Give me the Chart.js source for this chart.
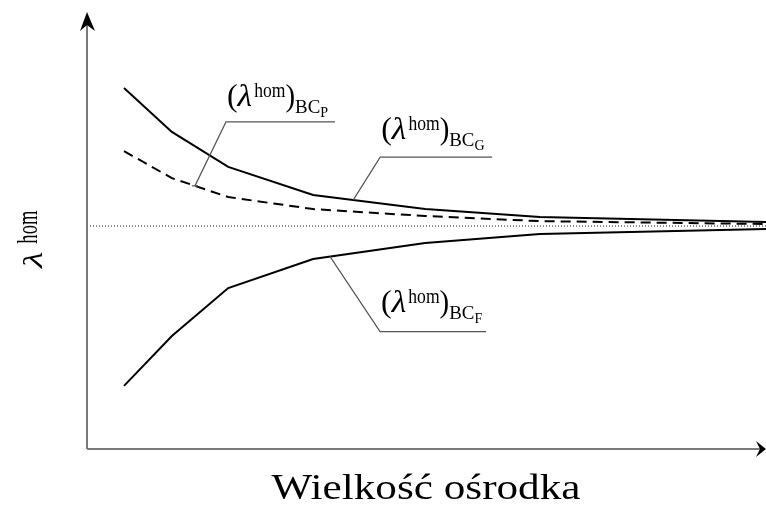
<!DOCTYPE html>
<html>
<head>
<meta charset="utf-8">
<script src="https://cdn.jsdelivr.net/npm/chart.js@4/dist/chart.umd.min.js"></script>
<style>
  html, body { margin: 0; padding: 0; background: #fff; }
  #wrap { width: 766px; height: 518px; position: relative; }
</style>
</head>
<body>
<div id="wrap"><canvas id="chart"></canvas></div>
<script>
// sample size (relative units along the x axis)
const sizes = [5.45, 12.5, 20.8, 33.3, 49.8, 66.7, 100];
// homogenised lambda for three boundary conditions (1 = limit value)
const bcG = [1.619, 1.422, 1.265, 1.139, 1.076, 1.040, 1.018];
const bcP = [1.336, 1.215, 1.130, 1.076, 1.045, 1.022, 1.009];
const bcF = [0.283, 0.507, 0.722, 0.852, 0.924, 0.964, 0.987];
const limitX = [0, 100];
const limitY = [1, 1];

const toPts = (xs, ys) => xs.map((x, i) => ({ x: x, y: ys[i] }));
function interp(xs, ys, x) {
    for (let i = 0; i < xs.length - 1; i++) {
        if (x >= xs[i] && x <= xs[i + 1]) {
            const t = (x - xs[i]) / (xs[i + 1] - xs[i]);
            return ys[i] + t * (ys[i + 1] - ys[i]);
        }
    }
    return ys[ys.length - 1];
}

// labels: anchor x on the curve, elbow offset, shelf length, text baseline above shelf
const notes = [
    { xs: sizes, ys: bcP, at: 15.9, dx: 31, dy: -64, shelf: 109, up: 16, sub: 'P', tick: true },
    { xs: sizes, ys: bcG, at: 39.2, dx: 27, dy: -43, shelf: 112, up: 18, sub: 'G' },
    { xs: sizes, ys: bcF, at: 35.8, dx: 50, dy: 75, shelf: 106, up: 20, sub: 'F' }
];

const SERIF = '"Liberation Serif", "DejaVu Serif", serif';

// draw text squeezed/stretched along its run, returns advance
function txt(ctx, s, x, y, font, sx) {
    ctx.font = font;
    ctx.save();
    ctx.translate(x, y);
    ctx.scale(sx, 1);
    ctx.fillText(s, 0, 0);
    ctx.restore();
    return ctx.measureText(s).width * sx;
}

function drawLabel(ctx, x, y, sub) {
    // (λ^hom)_BC_sub , x = left, y = baseline
    ctx.save();
    ctx.fillStyle = '#000';
    ctx.textBaseline = 'alphabetic';
    ctx.textAlign = 'left';
    let cx = x;
    cx += txt(ctx, '(', cx, y, '32px ' + SERIF, 1);
    cx += txt(ctx, 'λ', cx, y, 'italic 32px ' + SERIF, 1.05) + 2;
    cx += txt(ctx, 'hom', cx, y - 9, '22px ' + SERIF, 0.8);
    cx += txt(ctx, ')', cx, y, '32px ' + SERIF, 0.9);
    cx += txt(ctx, 'BC', cx, y + 7, '18px ' + SERIF, 1.05);
    txt(ctx, sub, cx, y + 11, '14px ' + SERIF, 1);
    ctx.restore();
}

const decor = {
    id: 'decor',
    afterDatasetsDraw(chart) {
        const ctx = chart.ctx;
        const sx = chart.scales.x, sy = chart.scales.y;
        const a = chart.chartArea;
        ctx.save();
        // axes
        ctx.strokeStyle = '#7a7a7a';
        ctx.lineWidth = 2;
        ctx.beginPath();
        ctx.moveTo(a.left, a.bottom);
        ctx.lineTo(a.left, a.top + 4);
        ctx.moveTo(a.left, a.bottom);
        ctx.lineTo(a.right - 3, a.bottom);
        ctx.stroke();
        ctx.fillStyle = '#000';
        ctx.beginPath();
        ctx.moveTo(a.left, a.top);
        ctx.lineTo(a.left - 7, a.top + 19);
        ctx.lineTo(a.left, a.top + 13);
        ctx.lineTo(a.left + 8, a.top + 19);
        ctx.closePath();
        ctx.fill();
        ctx.beginPath();
        ctx.moveTo(a.right, a.bottom);
        ctx.lineTo(a.right - 10, a.bottom - 8);
        ctx.lineTo(a.right - 6, a.bottom);
        ctx.lineTo(a.right - 10, a.bottom + 8);
        ctx.closePath();
        ctx.fill();

        // leader lines and labels
        ctx.strokeStyle = '#555';
        ctx.lineWidth = 1.2;
        notes.forEach(n => {
            const px = sx.getPixelForValue(n.at);
            const py = sy.getPixelForValue(interp(n.xs, n.ys, n.at));
            const ex = px + n.dx, ey = py + n.dy;
            ctx.beginPath();
            ctx.moveTo(px, py);
            ctx.lineTo(ex, ey);
            ctx.lineTo(ex + n.shelf, ey);
            if (n.tick) { ctx.moveTo(px - 3, py); ctx.lineTo(px + 3, py); }
            ctx.stroke();
            drawLabel(ctx, ex + 1, ey - n.up, n.sub);
        });

        // axis titles
        ctx.fillStyle = '#000';
        ctx.textAlign = 'left';
        ctx.textBaseline = 'alphabetic';
        ctx.font = '36px ' + SERIF;
        const xt = 'Wielkość ośrodka';
        const xw = ctx.measureText(xt).width * 1.2;
        txt(ctx, xt, 426 - xw / 2, 499, '36px ' + SERIF, 1.2);

        ctx.translate(42, 268);
        ctx.rotate(-Math.PI / 2);
        let w = txt(ctx, 'λ', 0, 0, 'italic 28px ' + SERIF, 1.35);
        txt(ctx, 'hom', w + 8, -5, '30px ' + SERIF, 0.62);
        ctx.restore();
    }
};

new Chart(document.getElementById('chart'), {
    type: 'line',
    data: {
        datasets: [
            { data: toPts(limitX, limitY), borderColor: '#111', borderWidth: 1, borderDash: [1, 2], pointRadius: 0 },
            { data: toPts(sizes, bcG), borderColor: '#000', borderWidth: 2, pointRadius: 0 },
            { data: toPts(sizes, bcP), borderColor: '#000', borderWidth: 2, borderDash: [10, 6], pointRadius: 0 },
            { data: toPts(sizes, bcF), borderColor: '#000', borderWidth: 2, pointRadius: 0 }
        ]
    },
    options: {
        responsive: true,
        maintainAspectRatio: false,
        animation: false,
        layout: { padding: { left: 87, right: 0, top: 12, bottom: 69 } },
        scales: {
            x: { type: 'linear', min: 0, max: 100, display: false },
            y: { min: 0, max: 1.96, display: false }
        },
        plugins: { legend: { display: false }, tooltip: { enabled: false } },
        elements: { line: { tension: 0 } }
    },
    plugins: [decor]
});
</script>
</body>
</html>
